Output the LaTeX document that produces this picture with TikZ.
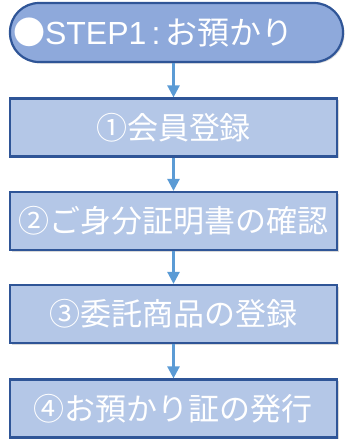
\documentclass[tikz,border=0pt]{standalone}
\usepackage{fontspec}
\newfontfamily\cjk{Noto Sans CJK JP}
\newfontfamily\latin{Liberation Sans}
\usetikzlibrary{arrows.meta, shadows}
\definecolor{edgeblue}{HTML}{2F5597}
\definecolor{headfill}{HTML}{8EA9DB}
\definecolor{boxfill}{HTML}{B4C7E7}
\definecolor{arrowblue}{HTML}{5B9BD5}
\tikzstyle{head}=[shape=rectangle, rounded corners=29pt, draw=edgeblue, line width=2.2pt, fill=headfill, minimum width=333pt, minimum height=59pt, inner sep=0, text=white, font=\cjk\fontsize{32}{32}\selectfont, drop shadow={shadow xshift=1.5pt, shadow yshift=-1.5pt, opacity=.3}]
\tikzstyle{stepbox}=[shape=rectangle, draw=edgeblue, line width=2.2pt, fill=boxfill, minimum width=327pt, minimum height=58pt, inner sep=0, text=white, font=\cjk\fontsize{31}{31}\selectfont, drop shadow={shadow xshift=1.5pt, shadow yshift=-1.5pt, opacity=.3}]
\tikzstyle{flow}=[draw=arrowblue, line width=2.5pt, -{Triangle[width=12pt, length=12pt]}]

\begin{document}
\begin{tikzpicture}[x=1pt, y=1pt]
\useasboundingbox (0,0) rectangle (351,-448);
%
\draw (176.5,-32.5) node[head] (s0) {\hspace*{-46pt}●{\latin STEP1\,:\,}お預かり};
%
\draw (173.5,-127.5) node[stepbox] (s1) {①会員登録};
\draw (173.5,-221) node[stepbox] (s2) {②ご身分証明書の確認};
\draw (173.5,-314) node[stepbox] (s3) {③委託商品の登録};
\draw (173.5,-408.5) node[stepbox] (s4) {④お預かり証の発行};
%
\draw[flow] (s0.south -| s1) -- (s1.north);
\foreach \x/\y in {1/2,2/3,3/4}
    {
	\draw[flow] (s\x.south) -- (s\y.north);}
\end{tikzpicture}
\end{document}
